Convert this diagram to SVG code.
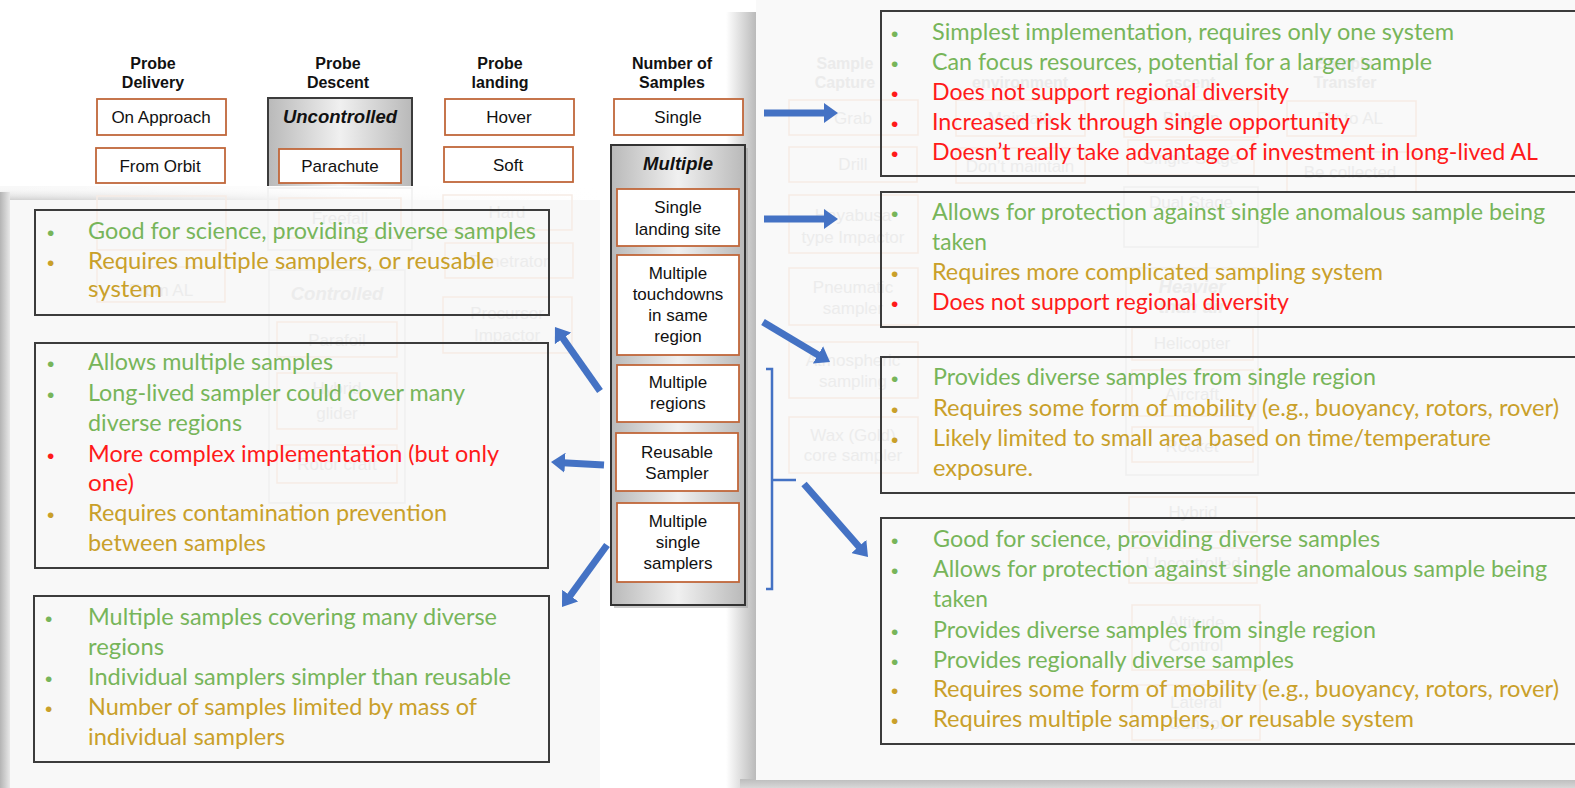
<svg xmlns="http://www.w3.org/2000/svg" width="1575" height="788" viewBox="0 0 1575 788">
<style>
.hd{font-family:"Liberation Sans",Arial,sans-serif;font-weight:bold;font-size:16px;fill:#111;text-anchor:middle}
.bt{font-family:"Liberation Sans",Arial,sans-serif;font-size:17px;fill:#111;text-anchor:middle}
.gl{font-family:"Liberation Sans",Arial,sans-serif;font-weight:bold;font-style:italic;font-size:18.5px;fill:#111;text-anchor:middle}
.ob{fill:#fff;stroke:#c0673a;stroke-width:1.8}
.gh{font-family:"Liberation Sans",Arial,sans-serif;font-size:17px;fill:#ececec;text-anchor:middle}
.ghh{font-family:"Liberation Sans",Arial,sans-serif;font-size:16px;font-weight:bold;fill:#ebebeb;text-anchor:middle}
.ghi{font-family:"Liberation Sans",Arial,sans-serif;font-size:18.5px;font-weight:bold;font-style:italic;fill:#ececec;text-anchor:middle}
.gb{fill:none;stroke:#f6ebe5;stroke-width:1.5}
.gg{fill:none;stroke:#efefef;stroke-width:1.5}
.tb{fill:none;stroke:#3c3c3c;stroke-width:2}
.t{font-family:Lato,"Open Sans",sans-serif;font-size:22.5px}
.g{fill:#77b55a}.o{fill:#c9a02a}.r{fill:#ff1a1a}
.bl{font-family:"Liberation Sans",Arial,sans-serif;font-size:21px}
.arr{stroke:#4472c4;stroke-width:7;fill:none;marker-end:url(#ah)}
</style>
<defs>
<marker id="ah" viewBox="0 0 14 20" refX="7" refY="10" markerWidth="14" markerHeight="20" markerUnits="userSpaceOnUse" orient="auto"><path d="M0,0 L14,10 L0,20 z" fill="#4472c4"/></marker>
<linearGradient id="grp" x1="0" y1="0" x2="1" y2="0"><stop offset="0" stop-color="#b9b9b9"/><stop offset="0.5" stop-color="#f0f0f0"/><stop offset="1" stop-color="#b9b9b9"/></linearGradient>
<linearGradient id="shR" x1="0" y1="0" x2="1" y2="0"><stop offset="0" stop-color="#ffffff"/><stop offset="1" stop-color="#b8b8b8"/></linearGradient>
<linearGradient id="shB" x1="0" y1="0" x2="0" y2="1"><stop offset="0" stop-color="#bcbcbc"/><stop offset="1" stop-color="#d8d8d8"/></linearGradient>
<linearGradient id="shT" x1="0" y1="0" x2="0" y2="1"><stop offset="0" stop-color="#ffffff" stop-opacity="0"/><stop offset="1" stop-color="#cfcfcf"/></linearGradient>
<linearGradient id="shTf" x1="0" y1="0" x2="1" y2="0"><stop offset="0" stop-color="#fff" stop-opacity="0"/><stop offset="0.6" stop-color="#fff" stop-opacity="0.9"/><stop offset="1" stop-color="#fff" stop-opacity="1"/></linearGradient>
<linearGradient id="shL" x1="0" y1="0" x2="1" y2="0"><stop offset="0" stop-color="#b4b4b4"/><stop offset="1" stop-color="#e8e8e8"/></linearGradient>
</defs>
<rect width="1575" height="788" fill="#fff"/>

<g id="headers">
<text class="hd" x="153" y="69">Probe</text><text class="hd" x="153" y="88">Delivery</text>
<text class="hd" x="338" y="69">Probe</text><text class="hd" x="338" y="88">Descent</text>
<text class="hd" x="500" y="69">Probe</text><text class="hd" x="500" y="88">landing</text>
<text class="hd" x="672" y="69">Number of</text><text class="hd" x="672" y="88">Samples</text>
</g>
<g id="on-approach"><rect class="ob" x="97" y="99" width="129" height="36"/><text class="bt" x="161" y="123">On Approach</text></g>
<g id="from-orbit"><rect class="ob" x="96" y="148" width="129" height="35"/><text class="bt" x="160" y="172">From Orbit</text></g>
<g id="uncontrolled"><rect x="268" y="98" width="144" height="100" fill="url(#grp)" stroke="#3c3c3c" stroke-width="2"/><text class="gl" x="340" y="123">Uncontrolled</text>
<rect class="ob" x="279" y="149" width="122" height="34"/><text class="bt" x="340" y="172">Parachute</text></g>
<g id="hover"><rect class="ob" x="445" y="99" width="129" height="36"/><text class="bt" x="509" y="123">Hover</text></g>
<g id="soft"><rect class="ob" x="444" y="147" width="129" height="35"/><text class="bt" x="508" y="171">Soft</text></g>

<rect x="0" y="186" width="600" height="602" fill="#f8f8f8"/>
<rect x="0" y="186" width="600" height="14" fill="url(#shT)"/>
<rect x="0" y="186" width="600" height="14" fill="url(#shTf)"/>
<rect x="0" y="192" width="10" height="596" fill="url(#shL)"/>

<rect x="726" y="12" width="31" height="776" fill="url(#shR)"/>
<rect x="740" y="779" width="835" height="9" fill="url(#shB)"/>
<rect x="756" y="0" width="819" height="780" fill="#f9f9f9"/>

<g id="ghost-left">
<rect class="gg" x="268" y="188" width="144" height="62"/>
<rect class="gb" x="97" y="196" width="129" height="54"/>
<rect class="gb" x="97" y="267" width="128" height="35"/><text class="gh" x="161" y="296">From AL</text>
<rect class="gb" x="279" y="198" width="122" height="40"/><text class="gh" x="340" y="224">Freefall</text>
<rect class="gg" x="269" y="270" width="136" height="233"/><text class="ghi" x="337" y="300">Controlled</text>
<rect class="gb" x="277" y="322" width="120" height="35"/><text class="gh" x="337" y="346">Parafoil</text>
<rect class="gb" x="277" y="373" width="120" height="56"/><text class="gh" x="337" y="394">Hybrid</text><text class="gh" x="337" y="419">glider</text>
<rect class="gb" x="277" y="445" width="120" height="38"/><text class="gh" x="337" y="470">Rotor craft</text>
<rect class="gb" x="443" y="195" width="129" height="35"/><text class="gh" x="507" y="218">Hard</text>
<rect class="gb" x="445" y="243" width="128" height="35"/><text class="gh" x="509" y="267">Penetrator</text>
<rect class="gb" x="443" y="297" width="129" height="56"/><text class="gh" x="507" y="319">Precursor</text><text class="gh" x="507" y="341">Impactor</text>
</g>

<g id="ghost-right">
<text class="ghh" x="845" y="69">Sample</text><text class="ghh" x="845" y="88">Capture</text>
<rect class="gb" x="789" y="100" width="129" height="35"/><text class="gh" x="853" y="124">Grab</text>
<rect class="gb" x="789" y="147" width="128" height="35"/><text class="gh" x="853" y="170">Drill</text>
<rect class="gb" x="789" y="195" width="129" height="58"/><text class="gh" x="853" y="221">Hayabusa</text><text class="gh" x="853" y="243">type Impactor</text>
<rect class="gb" x="789" y="268" width="129" height="57"/><text class="gh" x="853" y="293">Pneumatic</text><text class="gh" x="853" y="314">sampler</text>
<rect class="gb" x="789" y="342" width="129" height="56"/><text class="gh" x="853" y="366">Atmospheric</text><text class="gh" x="853" y="387">sampling</text>
<rect class="gb" x="789" y="417" width="129" height="56"/><text class="gh" x="853" y="441">Wax (Gold)</text><text class="gh" x="853" y="461">core sampler</text>
<text class="ghh" x="1020" y="88">environment</text>
<rect class="gb" x="956" y="100" width="129" height="36"/><text class="gh" x="1020" y="124">Maintain</text>
<rect class="gb" x="956" y="148" width="129" height="35"/><text class="gh" x="1020" y="172">Don’t maintain</text>
<text class="ghh" x="1190" y="88">ascent</text>
<rect class="gb" x="1124" y="100" width="134" height="37"/><text class="gh" x="1191" y="124">Balloon</text>
<rect class="gb" x="1128" y="140" width="126" height="35"/><text class="gh" x="1191" y="164">Single Stage</text>
<rect class="gg" x="1124" y="187" width="134" height="60"/><text class="gh" x="1191" y="208">Dual Stage</text>
<rect class="gg" x="1126" y="268" width="132" height="207"/><text class="ghi" x="1192" y="293">Heavier</text><text class="ghi" x="1192" y="313">than air</text>
<rect class="gb" x="1132" y="328" width="121" height="32"/><text class="gh" x="1192" y="349">Helicopter</text>
<rect class="gb" x="1132" y="370" width="121" height="46"/><text class="gh" x="1192" y="400">Aircraft</text>
<rect class="gb" x="1132" y="427" width="121" height="35"/><text class="gh" x="1192" y="452">Rocket</text>
<rect class="gb" x="1129" y="497" width="128" height="35"/><text class="gh" x="1193" y="518">Hybrid</text>
<rect class="gb" x="1129" y="548" width="128" height="35"/><text class="gh" x="1193" y="569">Uncontrolled</text>
<rect class="gb" x="1132" y="605" width="128" height="65"/><text class="gh" x="1196" y="628">Altitude</text><text class="gh" x="1196" y="651">Control</text>
<rect class="gb" x="1132" y="685" width="128" height="55"/><text class="gh" x="1196" y="708">Lateral</text><text class="gh" x="1196" y="729">Control</text>
<text class="ghh" x="1345" y="69">Sample</text><text class="ghh" x="1345" y="88">Transfer</text>
<rect class="gb" x="1287" y="101" width="129" height="35"/><text class="gh" x="1350" y="124">Fly to AL</text>
<rect class="gb" x="1287" y="152" width="129" height="40"/><text class="gh" x="1350" y="178">Be collected</text>
</g>

<g id="single"><rect class="ob" x="614" y="99" width="129" height="36"/><text class="bt" x="678" y="123">Single</text></g>
<g id="multiple">
<rect x="614" y="148" width="134" height="460" fill="#9a9a9a" opacity="0.5"/>
<rect x="611" y="145" width="134" height="460" fill="url(#grp)" stroke="#333" stroke-width="2"/>
<text class="gl" x="678" y="170">Multiple</text>
<rect class="ob" x="617" y="189" width="122" height="57"/><text class="bt" x="678" y="213">Single</text><text class="bt" x="678" y="235">landing site</text>
<rect class="ob" x="617" y="255" width="122" height="100"/><text class="bt" x="678" y="279">Multiple</text><text class="bt" x="678" y="300">touchdowns</text><text class="bt" x="678" y="321">in same</text><text class="bt" x="678" y="342">region</text>
<rect class="ob" x="617" y="365" width="122" height="57"/><text class="bt" x="678" y="388">Multiple</text><text class="bt" x="678" y="409">regions</text>
<rect class="ob" x="616" y="433" width="122" height="58"/><text class="bt" x="677" y="458">Reusable</text><text class="bt" x="677" y="479">Sampler</text>
<rect class="ob" x="617" y="503" width="122" height="79"/><text class="bt" x="678" y="527">Multiple</text><text class="bt" x="678" y="548">single</text><text class="bt" x="678" y="569">samplers</text>
</g>

<g id="box-L1"><rect class="tb" x="35" y="210" width="514" height="105"/>
<text class="bl g" x="47" y="240">•</text><text class="t g" x="88" y="239" textLength="448" lengthAdjust="spacingAndGlyphs">Good for science, providing diverse samples</text>
<text class="bl o" x="47" y="270">•</text><text class="t o" x="88" y="269" textLength="406" lengthAdjust="spacingAndGlyphs">Requires multiple  samplers, or reusable</text>
<text class="t o" x="88" y="297" textLength="74" lengthAdjust="spacingAndGlyphs">system</text></g>

<g id="box-L2"><rect class="tb" x="35" y="343" width="513" height="225"/>
<text class="bl g" x="47" y="371">•</text><text class="t g" x="88" y="370" textLength="245" lengthAdjust="spacingAndGlyphs">Allows multiple  samples</text>
<text class="bl g" x="47" y="402">•</text><text class="t g" x="88" y="401" textLength="377" lengthAdjust="spacingAndGlyphs">Long-lived sampler could cover many</text>
<text class="t g" x="88" y="431" textLength="154" lengthAdjust="spacingAndGlyphs">diverse regions</text>
<text class="bl r" x="47" y="463">•</text><text class="t r" x="88" y="462" textLength="411" lengthAdjust="spacingAndGlyphs">More complex implementation (but only</text>
<text class="t r" x="88" y="491" textLength="46" lengthAdjust="spacingAndGlyphs">one)</text>
<text class="bl o" x="47" y="522">•</text><text class="t o" x="88" y="521" textLength="359" lengthAdjust="spacingAndGlyphs">Requires contamination prevention</text>
<text class="t o" x="88" y="551" textLength="178" lengthAdjust="spacingAndGlyphs">between samples</text></g>

<g id="box-L3"><rect class="tb" x="34" y="596" width="515" height="166"/>
<text class="bl g" x="45" y="626">•</text><text class="t g" x="88" y="625" textLength="409" lengthAdjust="spacingAndGlyphs">Multiple samples covering many diverse</text>
<text class="t g" x="88" y="655" textLength="76" lengthAdjust="spacingAndGlyphs">regions</text>
<text class="bl g" x="45" y="686">•</text><text class="t g" x="88" y="685" textLength="423" lengthAdjust="spacingAndGlyphs">Individual samplers simpler than reusable</text>
<text class="bl o" x="45" y="716">•</text><text class="t o" x="88" y="715" textLength="389" lengthAdjust="spacingAndGlyphs">Number of samples limited  by mass of</text>
<text class="t o" x="88" y="745" textLength="197" lengthAdjust="spacingAndGlyphs">individual samplers</text></g>

<g id="box-R1"><rect class="tb" x="881" y="11" width="710" height="165"/>
<text class="bl g" x="891" y="41">•</text><text class="t g" x="932" y="40" textLength="522" lengthAdjust="spacingAndGlyphs">Simplest implementation, requires only one system</text>
<text class="bl g" x="891" y="71">•</text><text class="t g" x="932" y="70" textLength="500" lengthAdjust="spacingAndGlyphs">Can focus resources, potential for a larger sample</text>
<text class="bl r" x="891" y="101">•</text><text class="t r" x="932" y="100" textLength="357" lengthAdjust="spacingAndGlyphs">Does not support regional diversity</text>
<text class="bl r" x="891" y="131">•</text><text class="t r" x="932" y="130" textLength="418" lengthAdjust="spacingAndGlyphs">Increased risk through single opportunity</text>
<text class="bl r" x="891" y="161">•</text><text class="t r" x="932" y="160" textLength="606" lengthAdjust="spacingAndGlyphs">Doesn’t really take advantage of investment in long-lived AL</text></g>

<g id="box-R2"><rect class="tb" x="881" y="192" width="710" height="135"/>
<text class="bl g" x="891" y="221">•</text><text class="t g" x="932" y="220" textLength="613" lengthAdjust="spacingAndGlyphs">Allows for protection against single anomalous sample being</text>
<text class="t g" x="932" y="250" textLength="55" lengthAdjust="spacingAndGlyphs">taken</text>
<text class="bl o" x="891" y="281">•</text><text class="t o" x="932" y="280" textLength="451" lengthAdjust="spacingAndGlyphs">Requires more complicated sampling system</text>
<text class="bl r" x="891" y="311">•</text><text class="t r" x="932" y="310" textLength="357" lengthAdjust="spacingAndGlyphs">Does not support regional diversity</text></g>

<g id="box-R3"><rect class="tb" x="881" y="357" width="710" height="136"/>
<text class="bl g" x="891" y="386">•</text><text class="t g" x="933" y="385" textLength="443" lengthAdjust="spacingAndGlyphs">Provides diverse samples from single region</text>
<text class="bl o" x="891" y="417">•</text><text class="t o" x="933" y="416" textLength="626" lengthAdjust="spacingAndGlyphs">Requires some form of mobility (e.g., buoyancy, rotors, rover)</text>
<text class="bl o" x="891" y="447">•</text><text class="t o" x="933" y="446" textLength="558" lengthAdjust="spacingAndGlyphs">Likely limited  to small area based on time/temperature</text>
<text class="t o" x="933" y="476" textLength="100" lengthAdjust="spacingAndGlyphs">exposure.</text></g>

<g id="box-R4"><rect class="tb" x="881" y="518" width="710" height="226"/>
<text class="bl g" x="891" y="548">•</text><text class="t g" x="933" y="547" textLength="447" lengthAdjust="spacingAndGlyphs">Good for science, providing diverse samples</text>
<text class="bl g" x="891" y="578">•</text><text class="t g" x="933" y="577" textLength="614" lengthAdjust="spacingAndGlyphs">Allows for protection against single anomalous sample being</text>
<text class="t g" x="933" y="607" textLength="55" lengthAdjust="spacingAndGlyphs">taken</text>
<text class="bl g" x="891" y="639">•</text><text class="t g" x="933" y="638" textLength="443" lengthAdjust="spacingAndGlyphs">Provides diverse samples from single region</text>
<text class="bl g" x="891" y="669">•</text><text class="t g" x="933" y="668" textLength="361" lengthAdjust="spacingAndGlyphs">Provides regionally diverse samples</text>
<text class="bl o" x="891" y="698">•</text><text class="t o" x="933" y="697" textLength="626" lengthAdjust="spacingAndGlyphs">Requires some form of mobility (e.g., buoyancy, rotors, rover)</text>
<text class="bl o" x="891" y="728">•</text><text class="t o" x="933" y="727" textLength="481" lengthAdjust="spacingAndGlyphs">Requires multiple  samplers, or reusable system</text></g>

<g id="connectors">
<line class="arr" x1="764" y1="113" x2="831" y2="113"/>
<line class="arr" x1="764" y1="219" x2="831" y2="219"/>
<line class="arr" x1="763" y1="322" x2="824" y2="358.4"/>
<line class="arr" x1="804" y1="484" x2="863.4" y2="551.7"/>
<line class="arr" x1="600" y1="391" x2="559" y2="332.7"/>
<line class="arr" x1="604" y1="465" x2="558" y2="462.4"/>
<line class="arr" x1="607" y1="545" x2="566.1" y2="601.3"/>
<path d="M766,369 H772 V589 H766 M772,480 H796" fill="none" stroke="#4472c4" stroke-width="2.5"/>
</g>
</svg>
